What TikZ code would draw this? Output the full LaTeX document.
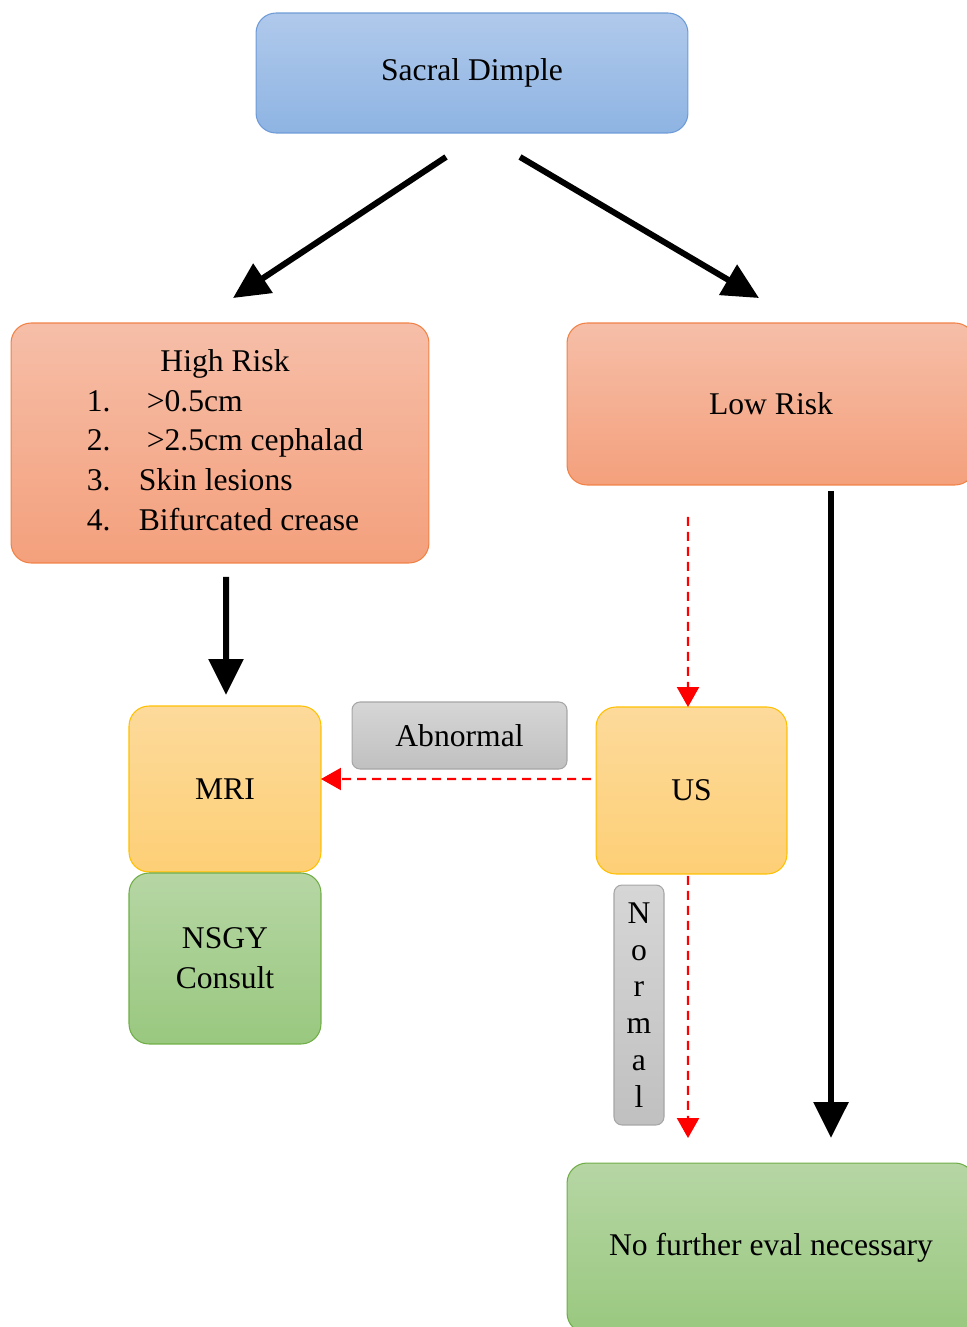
\documentclass[tikz,border=0pt]{standalone}
\usepackage{fontspec}
\setmainfont{Liberation Serif}
\usepackage{tikz}
\usetikzlibrary{positioning}
\usetikzlibrary{arrows.meta}
\definecolor{bluetop}{RGB}{176,201,235}
\definecolor{bluebot}{RGB}{142,180,227}
\definecolor{blueline}{RGB}{110,155,215}
\definecolor{orangetop}{RGB}{246,190,168}
\definecolor{orangebot}{RGB}{244,160,124}
\definecolor{orangeline}{RGB}{240,130,70}
\definecolor{yellowtop}{RGB}{253,218,155}
\definecolor{yellowbot}{RGB}{253,207,118}
\definecolor{yellowline}{RGB}{255,192,0}
\definecolor{greentop}{RGB}{182,214,164}
\definecolor{greenbot}{RGB}{153,200,127}
\definecolor{greenline}{RGB}{112,173,71}
\definecolor{greytop}{RGB}{214,214,214}
\definecolor{greybot}{RGB}{192,192,192}
\definecolor{greyline}{RGB}{166,166,166}
\tikzset {
  % every box in the chart
  main/.style = {rounded corners=4mm, line width=0.6pt, inner sep=0pt, outer sep=0pt,
    font=\fontsize{18}{22.7}\selectfont, align=center},
  % box colours
  bluebox/.style={main, draw=blueline, top color=bluetop, bottom color=bluebot},
  riskbox/.style={main, draw=orangeline, top color=orangetop, bottom color=orangebot},
  testbox/.style={main, draw=yellowline, top color=yellowtop, bottom color=yellowbot},
  endbox/.style={main, draw=greenline, top color=greentop, bottom color=greenbot},
  % grey labels on the dashed edges
  tag/.style={main, rounded corners=1.6mm, draw=greyline, top color=greytop, bottom color=greybot},
  % solid and dashed edges
  bigarrow/.style={line width=1.2mm, -{Triangle[length=7.2mm, width=6.8mm]}},
  redarrow/.style={red, line width=0.45mm, dash pattern=on 1.8mm off 1.2mm,
    -{Triangle[length=4mm, width=4.4mm]}},
}

\begin{document}
\begin{tikzpicture}[x=0.02cm, y=-0.02cm]
      \useasboundingbox (0,0) rectangle (966,1327);

      \node[bluebox, minimum width=86.4mm, minimum height=24mm] (1) at (472,73) {Sacral Dimple};

      \node[riskbox, minimum width=83.6mm, minimum height=48mm] (2) at (220,443) {\hspace*{2mm}\begin{tabular}{@{}p{10.4mm}@{}l@{}}
        \multicolumn{2}{c}{High Risk\hspace{7.6mm}}\\
        1. & \ >0.5cm\\
        2. & \ >2.5cm cephalad\\
        3. & Skin lesions\\
        4. & Bifurcated crease
      \end{tabular}};

      \node[riskbox, minimum width=81.6mm, minimum height=32.4mm] (3) at (771,404) {Low Risk};

      \node[testbox, minimum width=38.4mm, minimum height=33.2mm] (4) at (225,789) {MRI};

      \node[endbox, minimum width=38.4mm, minimum height=34.2mm] (5) at (225,958.5) {NSGY\\Consult};

      \node[testbox, minimum width=38.2mm, minimum height=33.4mm] (6) at (691.5,790.5) {US};

      \node[endbox, minimum width=81.6mm, minimum height=34mm] (7) at (771,1248) {No further eval necessary};

      \node[tag, minimum width=43mm, minimum height=13.4mm] (8) at (459.5,735.5) {Abnormal};

      \node[tag, minimum width=10mm, minimum height=48mm, font=\fontsize{18}{21}\selectfont] (9) at (639,1005) {N\\o\\r\\m\\a\\l};

      \draw[bigarrow] ([xshift=-5.2mm, yshift=-4.8mm]1.south) -- ([xshift=2.6mm, yshift=5mm]2.north);
      \draw[bigarrow] ([xshift=9.6mm, yshift=-4.8mm]1.south) -- ([xshift=-2.4mm, yshift=5mm]3.north);
      \draw[bigarrow] ([xshift=1.2mm, yshift=-2.8mm]2.south) -- ([xshift=0.2mm, yshift=2.2mm]4.north);
      \draw[bigarrow] ([xshift=12mm, yshift=-1.2mm]3.south) -- ([xshift=12mm, yshift=5mm]7.north);

      \draw[redarrow] ([xshift=-16.6mm, yshift=-6.4mm]3.south) -- ([xshift=-0.7mm]6.north);
      \draw[redarrow] ([xshift=-1mm, yshift=2.3mm]6.west) -- ([yshift=2mm]4.east);
      \draw[redarrow] ([xshift=-0.7mm, yshift=-0.4mm]6.south) -- ([xshift=-16.6mm, yshift=5mm]7.north);
    \end{tikzpicture}
\end{document}
